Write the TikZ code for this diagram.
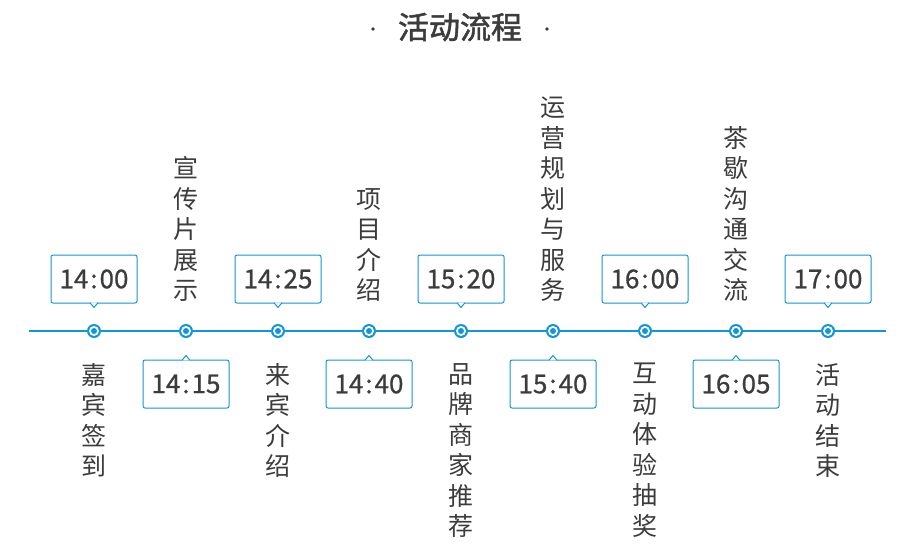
\documentclass[tikz,border=0pt]{standalone}
\usepackage{fontspec}
\setmainfont{Noto Sans CJK SC}
\newfontfamily\titlefont[FakeBold=1.6]{Noto Sans CJK SC}
\newfontfamily\timefont[FakeBold=0.7]{Noto Sans CJK SC}
\usetikzlibrary{positioning, calc}

\definecolor{lineblue}{HTML}{1296DB}
\definecolor{textgray}{HTML}{3C3C3C}

\begin{document}
\begin{tikzpicture}[
    x=1pt, y=-1pt,
    timebox/.style={draw=lineblue, line width=1pt, rounded corners=2pt, fill=white,
        minimum width=86pt, minimum height=48pt, inner sep=0pt,
        font=\timefont\fontsize{26}{26}\selectfont, text=textgray},
    label/.style={align=center, inner sep=0pt, text=textgray,
        font=\fontsize{25}{30.5}\selectfont},
    dot/.style={circle, fill=lineblue, minimum size=14pt, inner sep=0pt},
]
\useasboundingbox (0,0) rectangle (903,549);

% title
\node[text=textgray, font=\titlefont\fontsize{31}{31}\selectfont] (title) at (460,27) {活动流程};
\node[circle, fill=textgray, inner sep=1.4pt] (ldot) at (373,29) {};
\node[circle, fill=textgray, inner sep=1.4pt] (rdot) at (547,29) {};

% --- timeline ---
\coordinate (start) at (29,331);
\coordinate (end) at (886,331);
\draw[lineblue, line width=2pt] (start) -- (end);

\foreach \i/\x in {1/94, 2/186, 3/278, 4/369, 5/461, 6/553, 7/645, 8/736, 9/828} {
    \node[dot] (p\i) at (\x,331) {};
    \fill[white] (p\i) circle (5pt);
    \fill[lineblue] (p\i) circle (3pt);
}

% --- time boxes above ---
\foreach \i/\h/\m in {1/14/00, 3/14/25, 5/15/20, 7/16/00, 9/17/00} {
    \node[timebox] (t\i) at ($(p\i)+(0,-52)$) {\h\kern2pt:\kern2pt\m};
    \filldraw[draw=lineblue, fill=white, line width=1pt, line join=round]
        ($(t\i.south)+(-4,-0.8)$) -- ($(t\i.south)+(0,4)$) -- ($(t\i.south)+(4,-0.8)$);
}

% --- time boxes below ---
\foreach \i/\h/\m in {2/14/15, 4/14/40, 6/15/40, 8/16/05} {
    \node[timebox] (t\i) at ($(p\i)+(0,53)$) {\h\kern2pt:\kern2pt\m};
    \filldraw[draw=lineblue, fill=white, line width=1pt, line join=round]
        ($(t\i.north)+(-4,0.8)$) -- ($(t\i.north)+(0,-4)$) -- ($(t\i.north)+(4,0.8)$);
}

% --- labels above ---
\node[label, anchor=south] (l2) at ($(p2)+(0,-29)$) {宣\\传\\片\\展\\示};
\node[label, anchor=south] (l4) at ($(p4)+(0,-29)$) {项\\目\\介\\绍};
\node[label, anchor=south] (l6) at ($(p6)+(0,-29)$) {运\\营\\规\\划\\与\\服\\务};
\node[label, anchor=south] (l8) at ($(p8)+(0,-29)$) {茶\\歇\\沟\\通\\交\\流};

% --- labels below ---
\node[label, anchor=north] (l1) at ($(p1)+(0,32)$) {嘉\\宾\\签\\到};
\node[label, anchor=north] (l3) at ($(p3)+(0,32)$) {来\\宾\\介\\绍};
\node[label, anchor=north] (l5) at ($(p5)+(0,32)$) {品\\牌\\商\\家\\推\\荐};
\node[label, anchor=north] (l7) at ($(p7)+(0,32)$) {互\\动\\体\\验\\抽\\奖};
\node[label, anchor=north] (l9) at ($(p9)+(0,32)$) {活\\动\\结\\束};

\end{tikzpicture}
\end{document}
